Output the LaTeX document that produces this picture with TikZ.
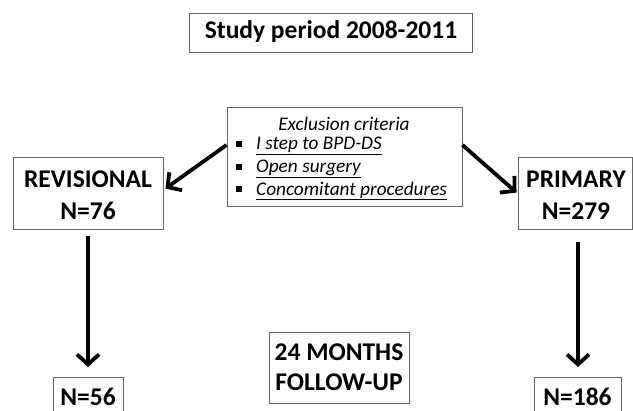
\documentclass[tikz,border=0pt]{standalone}
\usepackage{fontspec}
\setmainfont{Carlito}
\usetikzlibrary{arrows.meta}
\begin{document}
\begin{tikzpicture}[x=1pt,y=-1pt,
  frame/.style={draw=black!60,line width=0.9pt,fill=white,inner sep=0pt},
  bigtxt/.style={font=\fontsize{25.5}{25.5}\selectfont\bfseries,inner sep=0pt},
  smalltxt/.style={font=\fontsize{19.3}{19.3}\selectfont\itshape,inner sep=0pt,anchor=west},
  bul/.style={fill=black,minimum size=6pt,inner sep=0pt},
  arr/.style={line width=3.8pt,-{Straight Barb[length=10pt,width=22pt]}}]
\useasboundingbox (0,0) rectangle (633,411);
\clip (0,0) rectangle (633,411);
% boxes
\node[frame,minimum width=283pt,minimum height=39pt] (study) at (331,32.5) {};
\node[bigtxt] (studyt) at (331,32) {Study period 2008-2011};
\node[frame,minimum width=235pt,minimum height=99pt] (excl) at (344.5,156.5) {};
\node[smalltxt,anchor=center] (exh) at (344,124) {Exclusion criteria};
\node[bul] (b1) at (238.5,144) {};
\node[bul] (b2) at (238.5,167) {};
\node[bul] (b3) at (238.5,189) {};
\node[smalltxt] (e1) at (256,146) {\underline{I step to BPD-DS}};
\node[smalltxt] (e2) at (256,169) {\underline{Open surgery}};
\node[smalltxt] (e3) at (256,191) {\underline{Concomitant procedures}};
\node[frame,minimum width=150pt,minimum height=72pt] (rev) at (88,193) {};
\node[bigtxt] (revt1) at (88,179.5) {REVISIONAL};
\node[bigtxt] (revt2) at (88,211) {N=76};
\node[frame,minimum width=114pt,minimum height=72pt] (prim) at (575,193) {};
\node[bigtxt] (primt1) at (576,179.5) {PRIMARY};
\node[bigtxt] (primt2) at (576,211) {N=279};
\node[frame,minimum width=140pt,minimum height=71pt] (fol) at (339,367.5) {};
\node[bigtxt] (folt1) at (339,352) {24 MONTHS};
\node[bigtxt] (folt2) at (339,382) {FOLLOW-UP};
\node[frame,minimum width=70pt,minimum height=50pt,anchor=north] (n56) at (88,377) {};
\node[bigtxt] (n56t) at (88,397) {N=56};
\node[frame,minimum width=87pt,minimum height=50pt,anchor=north] (n186) at (577.5,377) {};
\node[bigtxt] (n186t) at (577.5,397) {N=186};
% connectors
\coordinate (lstart) at ([yshift=11.5pt]excl.west);
\coordinate (lend) at ([xshift=2pt,yshift=-32pt]rev.north east);
\coordinate (rstart) at ([yshift=11.5pt]excl.east);
\coordinate (rend) at ([xshift=-1pt,yshift=-36pt]prim.north west);
\draw[arr] (lstart) -- (lend);
\draw[arr] (rstart) -- (rend);
\draw[arr] ([yshift=-7pt]rev.south) -- ([yshift=10pt]n56.north);
\draw[arr] ([xshift=3pt,yshift=-13pt]prim.south) -- ([xshift=0.5pt,yshift=10pt]n186.north);
\end{tikzpicture}
\end{document}
